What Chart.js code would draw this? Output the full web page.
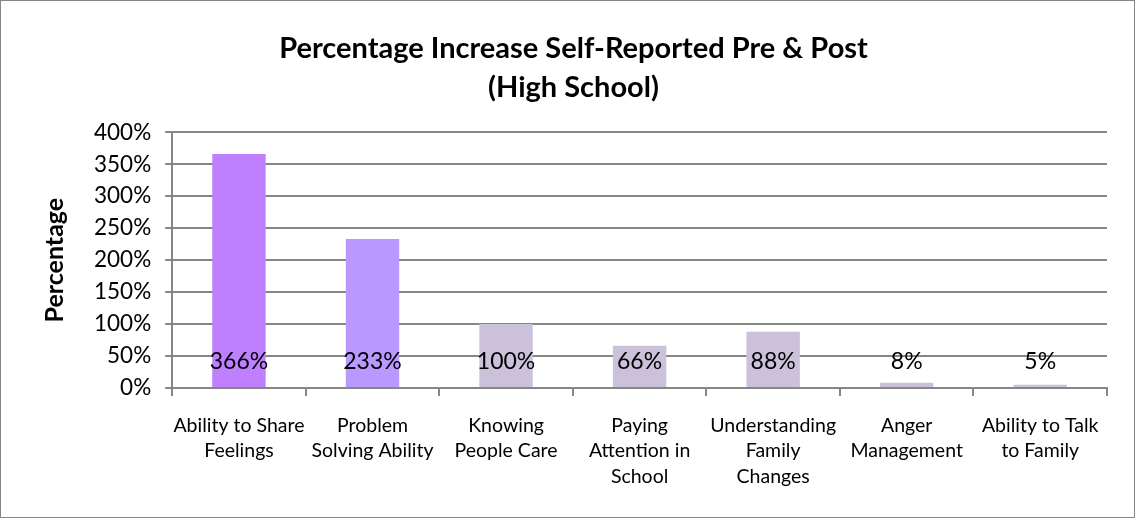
<!DOCTYPE html>
<html>
<head>
<meta charset="utf-8">
<script src="https://cdn.jsdelivr.net/npm/chart.js@4/dist/chart.umd.min.js"></script>
<style>
  html, body { margin: 0; padding: 0; background: #fff; }
  #wrap { width: 1133px; height: 516px; border: 1px solid #868686; position: relative; }
</style>
</head>
<body>
<div id="wrap"><canvas id="chart"></canvas></div>
<script>
// Chart data
const categories = [
    ['Ability to Share', 'Feelings'],
    ['Problem', 'Solving Ability'],
    ['Knowing', 'People Care'],
    ['Paying', 'Attention in', 'School'],
    ['Understanding', 'Family', 'Changes'],
    ['Anger', 'Management'],
    ['Ability to Talk', 'to Family']
];
const increaseValues = [366, 233, 100, 66, 88, 8, 5];
const barColors = ['#bf80ff', '#b999ff', '#ccc1da', '#ccc1da', '#ccc1da', '#ccc1da', '#ccc1da'];
const yTicks = [0, 50, 100, 150, 200, 250, 300, 350, 400];

const FONT = 'Lato, "Open Sans", sans-serif';

// Draw value labels near the bottom of each bar, like the original
const valueLabels = {
    id: 'valueLabels',
    afterDatasetsDraw(chart) {
        const { ctx } = chart;
        const meta = chart.getDatasetMeta(0);
        const base = chart.scales.y.getPixelForValue(0);
        ctx.save();
        ctx.font = '23px ' + FONT;
        ctx.fillStyle = '#000';
        ctx.textAlign = 'center';
        ctx.textBaseline = 'middle';
        meta.data.forEach((bar, i) => {
            ctx.fillText(increaseValues[i] + '%', bar.x, base - 26);
        });
        ctx.restore();
    }
};

new Chart(document.getElementById('chart').getContext('2d'), {
    type: 'bar',
    data: {
        labels: categories,
        datasets: [{
            label: 'Percentage Increase',
            data: increaseValues,
            backgroundColor: barColors,
            categoryPercentage: 1.0,
            barPercentage: 0.4
        }]
    },
    plugins: [valueLabels],
    options: {
        responsive: true,
        maintainAspectRatio: false,
        animation: false,
        layout: { padding: { left: 39, right: 27, top: 28, bottom: 11 } },
        plugins: {
            legend: { display: false },
            tooltip: { enabled: false },
            title: {
                display: true,
                text: ['Percentage Increase Self-Reported Pre & Post', '(High School)'],
                color: '#000',
                font: { family: FONT, size: 29, weight: 'bold', lineHeight: 1.35 },
                padding: { top: 0, bottom: 25 }
            }
        },
        scales: {
            x: {
                grid: {
                    offset: true,
                    drawOnChartArea: false,
                    color: '#868686',
                    lineWidth: 2,
                    tickLength: 8
                },
                border: { color: '#868686', width: 2 },
                ticks: {
                    color: '#000',
                    font: { family: FONT, size: 19.5, lineHeight: 1.3 },
                    padding: 17,
                    maxRotation: 0,
                    autoSkip: false
                }
            },
            y: {
                min: 0,
                max: 400,
                afterBuildTicks: (axis) => { axis.ticks = yTicks.map(v => ({ value: v })); },
                grid: { color: '#868686', lineWidth: 2, tickLength: 7 },
                border: { color: '#868686', width: 2 },
                ticks: {
                    color: '#000',
                    font: { family: FONT, size: 22.5 },
                    padding: 14,
                    callback: (v) => v + '%'
                },
                title: {
                    display: true,
                    text: 'Percentage',
                    color: '#000',
                    font: { family: FONT, size: 25, weight: 'bold' },
                    padding: { top: 0, bottom: 10 }
                }
            }
        }
    }
});
</script>
</body>
</html>
